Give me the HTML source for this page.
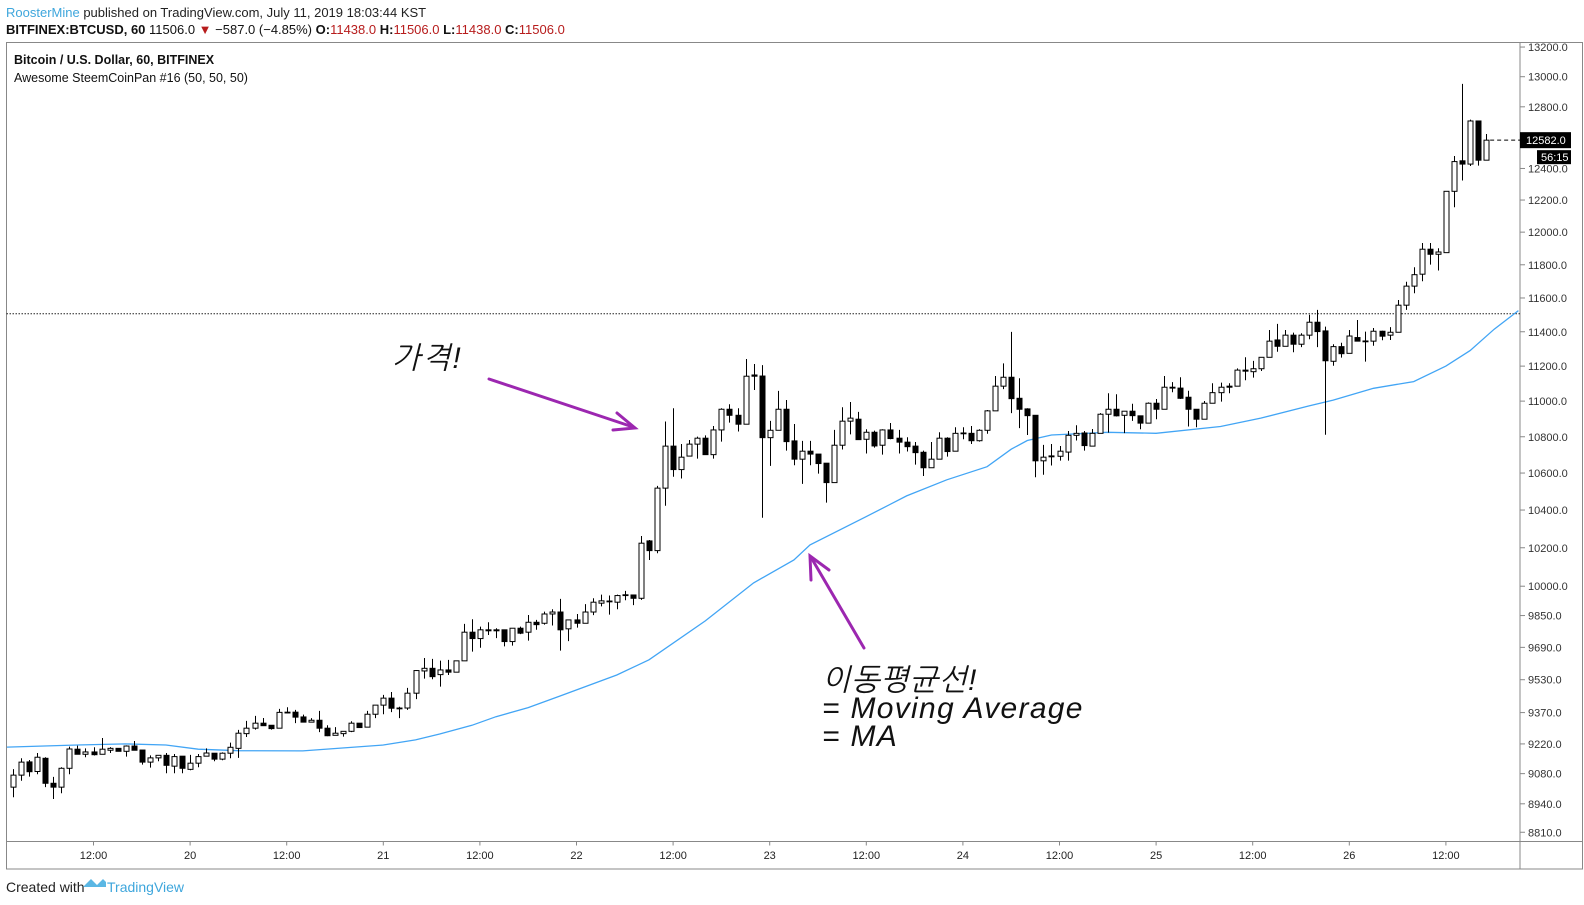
<!DOCTYPE html>
<html><head><meta charset="utf-8"><style>
html,body{margin:0;padding:0;background:#fff;}
svg{display:block;font-family:"Liberation Sans",sans-serif;}
</style></head><body>
<svg id="chart" width="1584" height="905" viewBox="0 0 1584 905" xmlns="http://www.w3.org/2000/svg">
<rect x="0" y="0" width="1584" height="905" fill="#fff"/>
<text x="6" y="17" font-size="13" fill="#222"><tspan fill="#3ea6dc">RoosterMine</tspan> published on TradingView.com, July 11, 2019 18:03:44 KST</text>
<text x="6" y="34" font-size="13" fill="#111"><tspan font-weight="bold">BITFINEX:BTCUSD, 60</tspan> 11506.0 <tspan fill="#b71c1c">▼</tspan> −587.0 (−4.85%) <tspan font-weight="bold">O:</tspan><tspan fill="#b71c1c">11438.0</tspan> <tspan font-weight="bold">H:</tspan><tspan fill="#b71c1c">11506.0</tspan> <tspan font-weight="bold">L:</tspan><tspan fill="#b71c1c">11438.0</tspan> <tspan font-weight="bold">C:</tspan><tspan fill="#b71c1c">11506.0</tspan></text>
<rect x="6.5" y="42.5" width="1576" height="826.5" fill="none" stroke="#888" stroke-width="1"/>
<line x1="1520" y1="42.5" x2="1520" y2="869" stroke="#888"/>
<line x1="6.5" y1="841.5" x2="1583" y2="841.5" stroke="#888"/>
<text x="14" y="64" font-size="12.5" font-weight="bold" fill="#111">Bitcoin / U.S. Dollar, 60, BITFINEX</text>
<text x="14" y="82" font-size="12.5" fill="#111">Awesome SteemCoinPan #16 (50, 50, 50)</text>
<g id="grid"></g>
<g id="ma"></g>
<g id="candles"></g>
<g id="axes"></g>
<g font-style="italic" font-size="30" fill="#111" font-family="'Liberation Sans','NanumGothic','Noto Sans CJK KR',sans-serif">
<text x="392" y="368" letter-spacing="2">가격!</text>
<text x="822" y="690" letter-spacing="1">이동평균선!</text>
<text x="822" y="718" letter-spacing="1.3">= Moving Average</text>
<text x="822" y="746" letter-spacing="1.3">= MA</text>
</g>
<g stroke="#9c27b0" stroke-width="3" fill="none" stroke-linecap="round">
<line x1="489" y1="379" x2="633" y2="427"/>
<polyline points="617,413 635,428 613,430"/>
<line x1="864" y1="648" x2="812" y2="559"/>
<polyline points="811,580 810,556 829,570"/>
</g>
<text x="6" y="892" font-size="14" fill="#222">Created with</text>
<g>
<path d="M83 887 L91 879 L97 885 L103 879 L106 882 L106 887 Z" fill="#5bb7e4"/>
<text x="107" y="892" font-size="14" fill="#3ea6dc">TradingView</text>
</g>
</svg>
<script>
// ---------- data ----------
const opens=[9017,9073,9135,9090,9152,9035,9017,9105,9195,9171,9182,9171,9190,9199,9185,9210,9191,9134,9154,9166,9115,9162,9100,9129,9162,9176,9148,9176,9199,9269,9295,9319,9309,9295,9370,9372,9349,9324,9333,9295,9261,9269,9280,9319,9300,9362,9406,9440,9392,9392,9464,9573,9586,9555,9578,9567,9623,9766,9734,9778,9778,9778,9719,9786,9766,9816,9811,9858,9868,9783,9828,9811,9868,9913,9922,9918,9954,9955,9938,10236,10185,10518,10748,10619,10693,10759,10792,10701,10838,10954,10920,10870,11149,11143,10795,10836,10954,10777,10676,10720,10704,10654,10548,10753,10887,10898,10786,10825,10753,10838,10792,10770,10748,10714,10629,10676,10792,10720,10819,10819,10778,10836,10945,11085,11136,11016,10956,10920,10667,10694,10692,10715,10808,10821,10748,10819,10926,10954,10920,10943,10917,10876,10988,10954,11079,11074,11022,10954,10898,10988,11048,11085,11085,11177,11168,11185,11251,11352,11315,11380,11327,11380,11456,11405,11228,11313,11274,11366,11345,11345,11403,11380,11397,11557,11671,11743,11895,11864,11874,12255,12449,12428,12707,12453];
const highs=[9101,9152,9144,9177,9157,9065,9110,9207,9212,9199,9204,9248,9205,9200,9213,9234,9191,9166,9166,9177,9172,9162,9168,9172,9199,9176,9180,9226,9287,9330,9354,9344,9309,9388,9396,9383,9360,9343,9378,9309,9300,9280,9328,9319,9378,9406,9456,9470,9398,9490,9578,9637,9633,9624,9628,9623,9808,9831,9794,9816,9786,9778,9786,9794,9853,9828,9870,9882,9935,9828,9858,9908,9938,9957,9952,9957,9976,9955,10262,10241,10530,10885,10960,10760,10782,10801,10808,10860,10960,10982,10960,11241,11212,11206,10889,11058,11006,10871,10777,10777,10704,10654,10838,10965,10995,10939,10842,10834,10842,10877,10838,10797,10771,10723,10771,10825,10797,10853,10853,10860,10842,10950,11143,11216,11399,11130,10960,10920,10755,10760,10749,10832,10864,10832,10843,10932,11045,11039,10943,10985,10917,10993,11012,11143,11108,11136,11059,10954,11001,11102,11105,11102,11187,11251,11230,11251,11410,11446,11410,11395,11391,11500,11529,11430,11327,11336,11410,11469,11401,11422,11406,11427,11588,11697,11785,11933,11933,11901,12255,12480,12952,12716,12707,12622];
const lows=[8970,9047,9066,9077,9017,8962,8989,9077,9171,9157,9165,9171,9177,9184,9160,9190,9122,9108,9138,9082,9082,9082,9096,9110,9162,9138,9143,9152,9154,9253,9288,9307,9288,9295,9367,9319,9324,9324,9276,9257,9261,9255,9276,9298,9300,9343,9362,9372,9343,9383,9435,9535,9532,9496,9553,9567,9623,9669,9688,9752,9736,9695,9699,9756,9724,9778,9804,9800,9674,9721,9789,9811,9852,9897,9855,9882,9928,9903,9930,10136,10171,10423,10580,10570,10693,10679,10701,10679,10773,10879,10829,10870,11063,10359,10639,10836,10723,10643,10541,10643,10597,10440,10548,10729,10813,10784,10707,10740,10701,10786,10707,10718,10646,10584,10629,10676,10690,10720,10786,10760,10773,10817,10945,11068,10932,10848,10810,10577,10591,10641,10668,10668,10779,10723,10748,10819,10823,10913,10820,10889,10842,10876,10898,10954,11050,11012,10857,10853,10898,10988,10997,11045,11085,11119,11134,11172,11251,11283,11315,11280,11310,11356,11310,10811,11202,11249,11274,11345,11226,11318,11350,11352,11397,11529,11628,11700,11801,11765,11874,12155,12323,12416,12418,12453];
const closes=[9073,9134,9089,9157,9035,9017,9105,9196,9171,9182,9169,9195,9199,9185,9210,9190,9134,9154,9166,9119,9160,9105,9129,9160,9177,9148,9176,9204,9271,9295,9319,9307,9293,9371,9372,9348,9324,9333,9295,9259,9271,9280,9319,9298,9362,9406,9440,9391,9392,9464,9575,9586,9545,9578,9567,9623,9766,9734,9778,9773,9773,9719,9786,9761,9816,9804,9858,9868,9778,9828,9811,9868,9918,9925,9924,9952,9956,9938,10224,10185,10518,10748,10619,10687,10759,10792,10701,10838,10954,10920,10870,11142,11142,10795,10836,10954,10773,10676,10720,10704,10652,10548,10753,10887,10904,10784,10825,10749,10838,10790,10770,10745,10712,10629,10676,10792,10718,10819,10821,10778,10836,10945,11085,11136,11014,10954,10918,10667,10687,10689,10720,10808,10819,10751,10819,10926,10954,10917,10943,10918,10876,10988,10954,11079,11074,11016,10954,10898,10988,11048,11079,11079,11177,11171,11185,11251,11345,11315,11380,11327,11380,11456,11401,11231,11313,11272,11375,11345,11346,11403,11374,11397,11557,11671,11740,11895,11864,11878,12255,12444,12428,12707,12453,12582];
const firstHour=2; // hours after 19th 00:00 of first candle
const maIndex=[-1,8,14,19,23,28,36,46,50,53,57,60,64,68,75,79,86,92,97,99,106,111,116,121,124,126,129,136,142,150,155,161,164,169,174,178,181,184,187];
const maValues=[9205,9215,9220,9215,9195,9188,9187,9215,9239,9267,9309,9350,9394,9451,9553,9628,9823,10017,10136,10215,10365,10476,10563,10635,10731,10779,10810,10825,10819,10857,10904,10973,11006,11073,11111,11200,11290,11415,11525];
const priceTicks=[13200,13000,12800,12600,12400,12200,12000,11800,11600,11400,11200,11000,10800,10600,10400,10200,10000,9850,9690,9530,9370,9220,9080,8940,8810];
const timeTickHours=[12,24,36,48,60,72,84,96,108,120,132,144,156,168,180];
const timeTickLabels=["12:00","20","12:00","21","12:00","22","12:00","23","12:00","24","12:00","25","12:00","26","12:00"];
const lastPrice=12582;
const refPrice=11506;

// ---------- scales ----------
const NS="http://www.w3.org/2000/svg";
const PL=6.5, PR=1520, PT=42.5, PB=841.5;
function yScale(p){return 76.7+1942*Math.log(13000/p);}
function xHour(h){return 93.5+(h-12)*8.05;}
function xIdx(i){return Math.max(PL+0.5,xHour(firstHour+i));}
function mk(tag,attrs,parent){const e=document.createElementNS(NS,tag);for(const k in attrs)e.setAttribute(k,attrs[k]);parent.appendChild(e);return e;}

const grid=document.getElementById('grid');
const axes=document.getElementById('axes');
const cg=document.getElementById('candles');
const mg=document.getElementById('ma');

const rl=mk('line',{x1:PL,x2:PR,y1:yScale(refPrice),y2:yScale(refPrice),stroke:'#222','stroke-dasharray':'1.5,1.5','stroke-width':1},grid);



priceTicks.forEach(p=>{
  const y=yScale(p);
  const t=mk('line',{x1:PR,x2:PR+5,y1:y,y2:y,stroke:'#888'},axes);
  
  
  const tx=mk('text',{x:PR+8,y:y+4,'font-size':11,fill:'#333'},axes);
  tx.textContent=p.toFixed(1);
  
  
});
timeTickHours.forEach((h,k)=>{
  const x=xHour(h);
  const t=mk('line',{x1:x,x2:x,y1:PB,y2:PB+4,stroke:'#888'},axes);
  
  
  const tx=mk('text',{x:x,y:859,'font-size':11,fill:'#222','text-anchor':'middle'},axes);
  tx.textContent=timeTickLabels[k];
  
  
});

const pts=maIndex.map((i,k)=>xIdx(i).toFixed(1)+','+yScale(maValues[k]).toFixed(1)).join(' ');
const ma=mk('polyline',{points:pts,fill:'none',stroke:'#42a5f5','stroke-width':1.3},mg);



opens.forEach((o,i)=>{
  const c=closes[i],h=highs[i],l=lows[i];
  const x=Math.round(xIdx(i))+0.5;
  const g=mk('g',{},cg);
  
  
  const up=c>=o;
  const yt=yScale(Math.max(o,c)), yb=yScale(Math.min(o,c));
  mk('line',{x1:x,x2:x,y1:yScale(h),y2:yt,stroke:'#000','stroke-width':1},g);
  mk('line',{x1:x,x2:x,y1:yb,y2:yScale(l),stroke:'#000','stroke-width':1},g);
  mk('rect',{x:x-2.5,y:yt,width:5,height:Math.max(yb-yt,0.8),fill:up?'#fff':'#000',stroke:'#000','stroke-width':1},g);
});

const ly=yScale(lastPrice);
const lx=xIdx(opens.length-1)+4;
const ll=mk('line',{x1:lx,x2:PR,y1:ly,y2:ly,stroke:'#000','stroke-dasharray':'4,3'},axes);


const lb=mk('rect',{x:PR,y:ly-8,width:51,height:16,fill:'#000'},axes);


const lt=mk('text',{x:PR+6,y:ly+4,'font-size':11,fill:'#fff'},axes);
lt.textContent=lastPrice.toFixed(1);


const cb=mk('rect',{x:PR+17,y:ly+10,width:34,height:14,fill:'#000'},axes);


const ct=mk('text',{x:PR+21,y:ly+21,'font-size':11,fill:'#fff'},axes);
ct.textContent='56:15';


</script>
</body></html>
